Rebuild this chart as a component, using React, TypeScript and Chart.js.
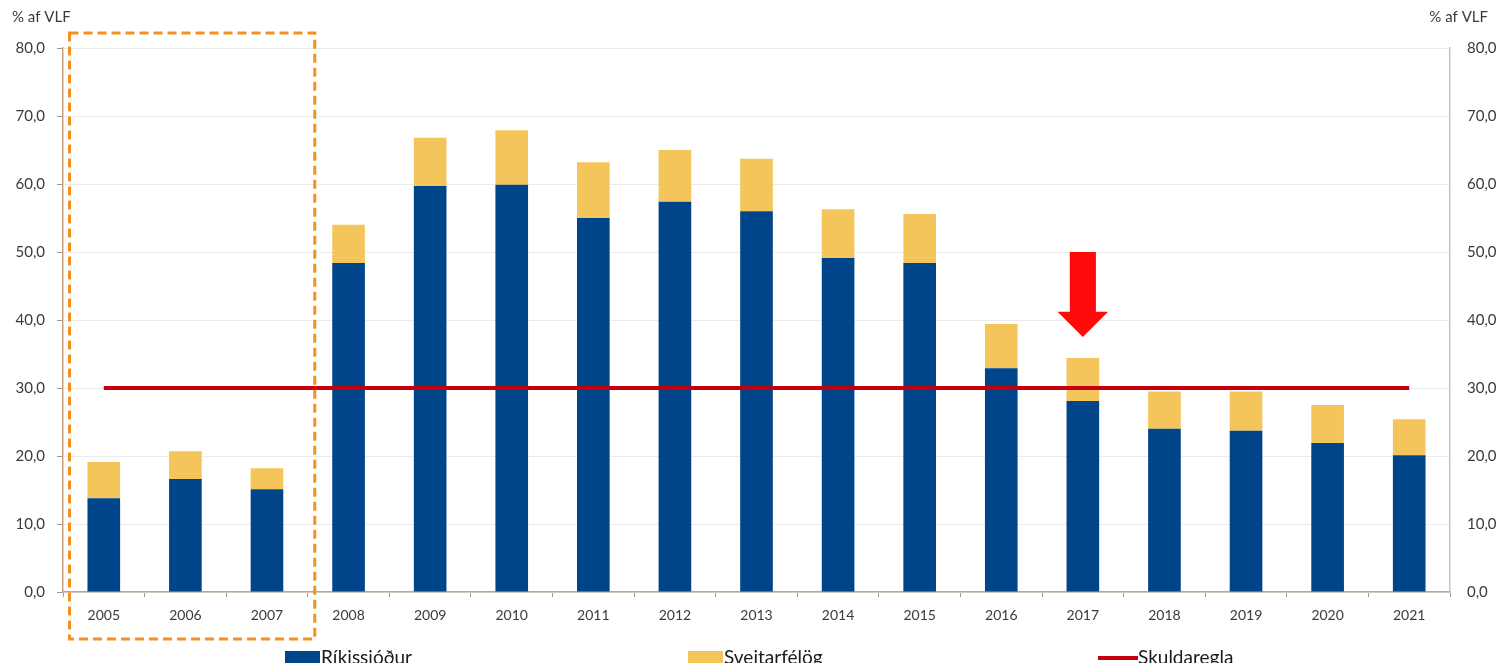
import { useEffect, useRef } from 'react';
import { Chart, registerables } from 'chart.js';

Chart.register(...registerables);

const categories = ['2005', '2006', '2007', '2008', '2009', '2010', '2011', '2012', '2013', '2014', '2015', '2016', '2017', '2018', '2019', '2020', '2021'];
const rikissjodur = [13.8, 16.6, 15.1, 48.4, 59.7, 59.9, 55.0, 57.4, 56.0, 49.1, 48.4, 32.9, 28.1, 24.0, 23.7, 21.9, 20.1];
const sveitarfelog = [5.3, 4.1, 3.1, 5.6, 7.1, 8.0, 8.2, 7.6, 7.7, 7.2, 7.2, 6.5, 6.3, 5.5, 5.8, 5.6, 5.3];
const skuldaregla = [30, 30, 30, 30, 30, 30, 30, 30, 30, 30, 30, 30, 30, 30, 30, 30, 30];
const yTicks = [0, 10, 20, 30, 40, 50, 60, 70, 80];

// annotation values
const arrowCategory = 12; // 2017
const arrowTopValue = 50;
const arrowHeadValue = 41.2;
const arrowTipValue = 37.5;
const boxFirstCategory = 0;
const boxLastCategory = 2;
const boxTopValue = 82.2;

const BLUE = '#004489';
const YELLOW = '#F4C55B';
const RED_LINE = '#C3000B';
const ARROW = '#FF0A0A';
const ORANGE = '#F5901E';
const FONT = 'Lato, "Open Sans", sans-serif';
const TEXT = '#3a3a3a';

const fmt = (v: number) => v.toFixed(1).replace('.', ',');

const overlayPlugin = {
  id: 'overlay',
  afterDatasetsDraw(chart: any) {
    const { ctx, scales } = chart;
    const x = scales.x;
    const y = scales.y;
    const cat = x.getPixelForValue(1) - x.getPixelForValue(0);

    // arrow
    const cx = x.getPixelForValue(arrowCategory);
    const yTop = y.getPixelForValue(arrowTopValue);
    const yHead = y.getPixelForValue(arrowHeadValue);
    const yTip = y.getPixelForValue(arrowTipValue);
    const shaft = cat * 0.32 / 2;
    const head = cat * 0.62 / 2;
    ctx.save();
    ctx.fillStyle = ARROW;
    ctx.beginPath();
    ctx.moveTo(cx - shaft, yTop);
    ctx.lineTo(cx + shaft, yTop);
    ctx.lineTo(cx + shaft, yHead);
    ctx.lineTo(cx + head, yHead);
    ctx.lineTo(cx, yTip);
    ctx.lineTo(cx - head, yHead);
    ctx.lineTo(cx - shaft, yHead);
    ctx.closePath();
    ctx.fill();
    ctx.restore();
  },
  afterDraw(chart: any) {
    const { ctx, chartArea, scales, width } = chart;
    const x = scales.x;
    const y = scales.y;
    const cat = x.getPixelForValue(1) - x.getPixelForValue(0);

    // dashed box
    const bl = x.getPixelForValue(boxFirstCategory) - cat * 0.42;
    const br = x.getPixelForValue(boxLastCategory) + cat * 0.5 + 7;
    const bt = y.getPixelForValue(boxTopValue);
    const bb = chartArea.bottom + 47;
    ctx.save();
    ctx.strokeStyle = ORANGE;
    ctx.lineWidth = 3;
    ctx.setLineDash([9, 5]);
    ctx.strokeRect(bl, bt, br - bl, bb - bt);
    ctx.restore();

    // axis titles
    ctx.save();
    ctx.fillStyle = TEXT;
    ctx.font = `15px ${FONT}`;
    ctx.textBaseline = 'middle';
    ctx.textAlign = 'left';
    ctx.fillText('% af VLF', 12, 17);
    ctx.textAlign = 'right';
    ctx.fillText('% af VLF', width - 18, 17);
    ctx.restore();

    // legend
    const items = [
      { text: 'Ríkissjóður', color: BLUE, type: 'box', x: 285 },
      { text: 'Sveitarfélög', color: YELLOW, type: 'box', x: 688 },
      { text: 'Skuldaregla', color: RED_LINE, type: 'line', x: 1098 },
    ];
    const ly = 658;
    ctx.save();
    ctx.font = `19px ${FONT}`;
    ctx.textBaseline = 'middle';
    ctx.textAlign = 'left';
    for (const it of items) {
      if (it.type === 'box') {
        ctx.fillStyle = it.color;
        ctx.fillRect(it.x, ly - 7, 35, 14);
        ctx.fillStyle = '#1a1a1a';
        ctx.fillText(it.text, it.x + 36, ly);
      } else {
        ctx.fillStyle = it.color;
        ctx.fillRect(it.x, ly - 2, 40, 4);
        ctx.fillStyle = '#1a1a1a';
        ctx.fillText(it.text, it.x + 40, ly);
      }
    }
    ctx.restore();
  },
};

export default function App() {
  const ref = useRef<HTMLCanvasElement>(null);
  useEffect(() => {
    document.body.style.margin = '0';
    const canvas = ref.current;
    if (!canvas) return;
    const chart = new Chart(canvas, {
      type: 'bar',
      data: {
        labels: categories,
        datasets: [
          {
            type: 'line' as const,
            label: 'Skuldaregla',
            data: skuldaregla,
            borderColor: RED_LINE,
            backgroundColor: RED_LINE,
            borderWidth: 4,
            pointRadius: 0,
            stack: 'rule',
            order: 0,
            yAxisID: 'y',
          } as any,
          {
            label: 'Ríkissjóður',
            data: rikissjodur,
            backgroundColor: BLUE,
            stack: 'debt',
            order: 1,
            categoryPercentage: 1,
            barPercentage: 0.4,
          },
          {
            label: 'Sveitarfélög',
            data: sveitarfelog,
            backgroundColor: YELLOW,
            stack: 'debt',
            order: 1,
            categoryPercentage: 1,
            barPercentage: 0.4,
          },
        ],
      },
      options: {
        responsive: false,
        animation: false,
        devicePixelRatio: 1,
        layout: { padding: { top: 48, left: 0, right: 0, bottom: 0 } },
        plugins: {
          legend: { display: false },
          tooltip: { enabled: false },
          title: { display: false },
        },
        scales: {
          x: {
            stacked: true,
            offset: true,
            grid: {
              display: true,
              drawOnChartArea: false,
              drawTicks: true,
              tickLength: 5,
              color: '#9a9a9a',
              offset: true,
            },
            border: { display: true, color: '#bca68e', width: 1.5 },
            ticks: {
              color: TEXT,
              font: { family: FONT, size: 14 },
              padding: 10,
              maxRotation: 0,
            },
            afterFit: (s: any) => {
              s.height = 71;
            },
          },
          y: {
            stacked: true,
            position: 'left',
            min: 0,
            max: 80,
            afterBuildTicks: (s: any) => {
              s.ticks = yTicks.map((v) => ({ value: v }));
            },
            grid: {
              color: '#ebebeb',
              tickColor: '#9a9a9a',
              tickLength: 6,
              lineWidth: 1,
            },
            border: { display: true, color: '#c8a27c', width: 1.5 },
            ticks: {
              color: TEXT,
              font: { family: FONT, size: 15 },
              padding: 12,
              callback: (v: any) => fmt(Number(v)),
            },
            afterFit: (s: any) => {
              s.width = 63;
            },
          },
          y1: {
            position: 'right',
            min: 0,
            max: 80,
            afterBuildTicks: (s: any) => {
              s.ticks = yTicks.map((v) => ({ value: v }));
            },
            grid: { display: true, drawOnChartArea: false, drawTicks: false },
            border: { display: true, color: '#c4c4c4', width: 1.5 },
            ticks: {
              color: TEXT,
              font: { family: FONT, size: 15 },
              padding: 17,
              callback: (v: any) => fmt(Number(v)),
            },
            afterFit: (s: any) => {
              s.width = 56;
            },
          },
        },
      },
      plugins: [overlayPlugin],
    });
    return () => chart.destroy();
  }, []);
  return (
    <div style={{ width: 1506, height: 663, background: '#fff' }}>
      <canvas ref={ref} width={1506} height={663} style={{ display: 'block' }} />
    </div>
  );
}
